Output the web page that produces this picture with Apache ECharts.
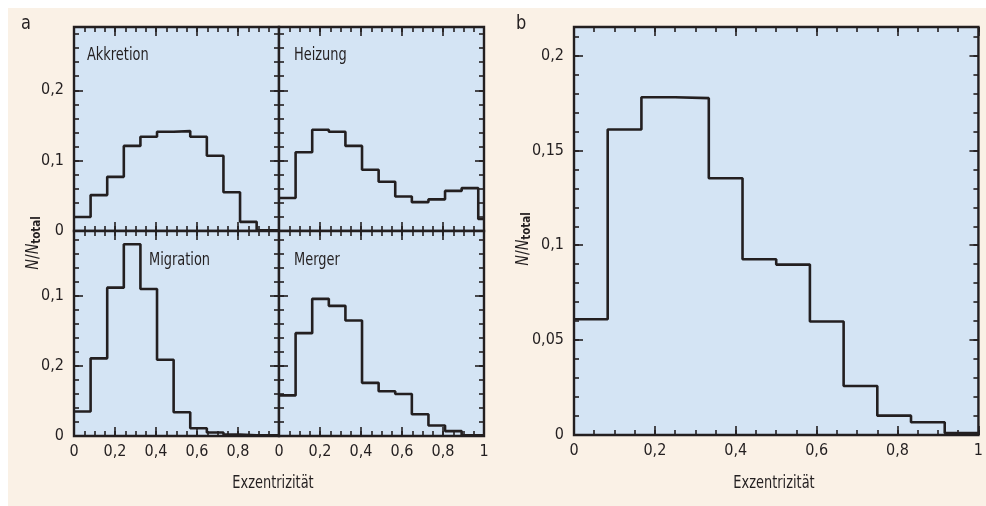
<!DOCTYPE html>
<html lang="de">
<head>
<meta charset="UTF-8">
<title>Exzentrizität – Histogramme</title>
<script src="https://cdn.jsdelivr.net/npm/echarts@6.0.0/dist/echarts.min.js"></script>
<style>
  html, body { margin: 0; padding: 0; background: #ffffff; }
  #chart { width: 986px; height: 506px; }
</style>
</head>
<body>
<div id="chart"></div>
<script>
// tick labels
const xTickLabels = ['0', '0,2', '0,4', '0,6', '0,8', '1'];
const aYLabelsTop = ['0', '0,1', '0,2'];
const aYLabelsBottom = ['0', '0,2', '0,1'];
const bYLabels = ['0', '0,05', '0,1', '0,15', '0,2'];

// bin edges (Exzentrizität)
const aEdges = [0, 0.081, 0.162, 0.243, 0.324, 0.405, 0.486, 0.567, 0.648, 0.729, 0.81, 0.891, 0.972, 1];
const bEdges = [0, 0.0833, 0.1667, 0.25, 0.3333, 0.4167, 0.5, 0.5833, 0.6667, 0.75, 0.8333, 0.9167, 1];

// N/Ntotal per bin, panel a
const akkretion = [0.020, 0.051, 0.077, 0.121, 0.134, 0.141, 0.142, 0.134, 0.107, 0.055, 0.013, 0.001, 0.001];
const heizung   = [0.047, 0.112, 0.144, 0.141, 0.121, 0.087, 0.070, 0.049, 0.041, 0.045, 0.057, 0.061, 0.017];
const migration = [0.035, 0.111, 0.212, 0.274, 0.210, 0.109, 0.034, 0.011, 0.005, 0.002, 0.001, 0.001, 0.001];
const merger    = [0.058, 0.147, 0.196, 0.186, 0.165, 0.076, 0.064, 0.060, 0.031, 0.015, 0.007, 0.001, 0.001];
// panel b
const gesamt = [0.061, 0.161, 0.178, 0.1775, 0.1353, 0.0926, 0.0898, 0.0598, 0.0258, 0.0102, 0.0067, 0.001];

const FONT = "'DejaVu Sans Condensed', 'Liberation Sans Narrow', sans-serif";
const INK = '#231f20';
const PLOT_BG = '#d4e4f4';
const PAPER = '#faf1e6';

const grids = [], xAxes = [], yAxes = [], series = [];

function labelFrom(arr, step) {
  return function (v) {
    const k = v / step;
    if (Math.abs(k - Math.round(k)) > 1e-6) return '';
    return arr[Math.round(k)] || '';
  };
}

function tickAxis(dim, gi, pos, min, max, interval, len, labels, labelStep, showMax) {
  const ax = {
    type: 'value', gridIndex: gi, position: pos, min: min, max: max, interval: interval,
    axisLine: { show: false, onZero: false },
    axisTick: { show: true, inside: true, length: len, lineStyle: { color: INK, width: 1.6 } },
    splitLine: { show: false },
    axisLabel: { show: false }
  };
  if (labels) {
    ax.axisLabel = {
      show: true, color: INK, fontFamily: FONT, fontSize: 16,
      margin: dim === 'x' ? 8 : 10,
      showMaxLabel: showMax, formatter: labelFrom(labels, labelStep)
    };
  }
  (dim === 'x' ? xAxes : yAxes).push(ax);
}

// one subplot: frame, ticks on all four sides, one step series
function addPanel(box, yMax, yMajor, yMinor, xLabels, yLabels, showMaxX, edges, vals) {
  const gi = grids.length;
  grids.push({
    left: box[0], top: box[1], width: box[2], height: box[3],
    show: true, backgroundColor: PLOT_BG, borderColor: INK, borderWidth: 2.4
  });
  const xi = xAxes.length, yi = yAxes.length;
  tickAxis('x', gi, 'bottom', 0, 1, 0.2, 9, xLabels, 0.2, showMaxX);
  tickAxis('x', gi, 'bottom', 0, 1, 0.05, 5);
  tickAxis('x', gi, 'top', 0, 1, 0.2, 9);
  tickAxis('x', gi, 'top', 0, 1, 0.05, 5);
  tickAxis('y', gi, 'left', 0, yMax, yMajor, 9, yLabels, yMajor, false);
  tickAxis('y', gi, 'left', 0, yMax, yMinor, 5);
  tickAxis('y', gi, 'right', 0, yMax, yMajor, 9);
  tickAxis('y', gi, 'right', 0, yMax, yMinor, 5);
  series.push({
    type: 'line', xAxisIndex: xi, yAxisIndex: yi, step: 'end',
    showSymbol: false, symbol: 'none', z: 5,
    lineStyle: { color: INK, width: 2.6 },
    data: edges.map(function (e, i) { return [e, vals[Math.min(i, vals.length - 1)]]; })
  });
}

addPanel([74, 27, 205, 204], 0.29, 0.1, 0.02, null, aYLabelsTop, false, aEdges, akkretion);
addPanel([279, 27, 205, 204], 0.29, 0.1, 0.02, null, null, false, aEdges, heizung);
addPanel([74, 231, 205, 205], 0.293, 0.1, 0.02, xTickLabels, aYLabelsBottom, false, aEdges, migration);
addPanel([279, 231, 205, 205], 0.293, 0.1, 0.02, xTickLabels, null, true, aEdges, merger);
addPanel([574, 27, 409, 408], 0.215, 0.05, 0.01, xTickLabels, bYLabels, true, bEdges, gesamt);

// text drawn narrower to get close to the condensed face of the original
function txt(x, y, s, opts, sx) {
  return {
    type: 'text', x: x, y: y, z: 10, scaleX: sx || 0.8,
    style: Object.assign({ text: s, fill: INK, font: '18px ' + FONT, align: 'left', verticalAlign: 'middle' }, opts || {})
  };
}

const yName = {
  text: '{i|N}/{i|N}{s|total}',
  rich: {
    i: { fontFamily: FONT, fontSize: 18, fontStyle: 'italic', fill: INK, color: INK },
    s: { fontFamily: FONT, fontSize: 13, fontWeight: 'bold', fill: INK, color: INK, padding: [7, 0, 0, 0] }
  },
  fill: INK, font: '18px ' + FONT, align: 'center', verticalAlign: 'middle'
};

const graphics = [
  { type: 'rect', z: -10, shape: { x: 8, y: 8, width: 978, height: 498 }, style: { fill: PAPER } },
  txt(21, 24, 'a', { font: '20px ' + FONT }, 0.9),
  txt(516, 24, 'b', { font: '20px ' + FONT }, 0.9),
  txt(87, 55, 'Akkretion'),
  txt(294, 55, 'Heizung'),
  txt(149, 260, 'Migration'),
  txt(294, 260, 'Merger'),
  txt(273, 483, 'Exzentrizität', { align: 'center' }),
  txt(774, 483, 'Exzentrizität', { align: 'center' }),
  { type: 'text', x: 33, y: 243, rotation: Math.PI / 2, scaleX: 0.88, z: 10, style: Object.assign({}, yName) },
  { type: 'text', x: 523, y: 239, rotation: Math.PI / 2, scaleX: 0.88, z: 10, style: Object.assign({}, yName) }
];

const chart = echarts.init(document.getElementById('chart'), null, { renderer: 'canvas' });
chart.setOption({
  backgroundColor: '#ffffff',
  animation: false,
  grid: grids,
  xAxis: xAxes,
  yAxis: yAxes,
  series: series,
  graphic: graphics
});
</script>
</body>
</html>
